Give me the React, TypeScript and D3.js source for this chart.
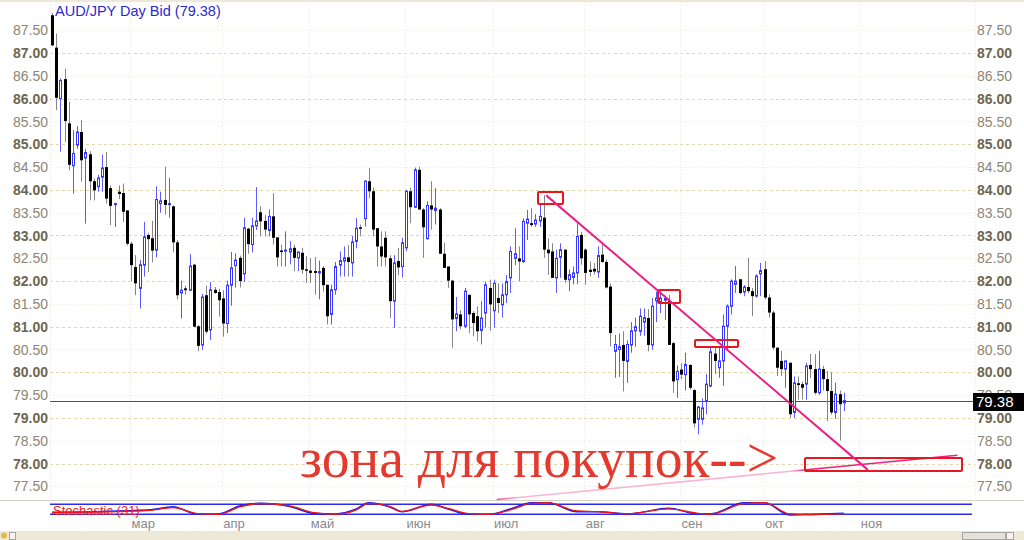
import React, { useRef, useEffect } from "react";
import * as d3 from "d3";

const W = 1024;
const H = 540;

// daily AUD/JPY bid candles, first one on 2018-02-05
const firstDay = new Date(2018, 1, 5);

const opens = [
  87.83, 87.12, 86.0, 86.43, 85.46, 84.53, 84.98, 85.27, 84.7, 84.78, 84.19, 84.07, 84.28, 84.5, 84.04, 83.69,
  83.96, 83.93, 83.55, 82.82, 82.31, 81.84, 82.35, 83.01, 82.94, 82.68, 83.7, 83.78, 83.68, 83.64, 82.85, 81.74,
  81.84, 81.8, 82.36, 81.01, 80.6, 81.69, 80.93, 81.81, 81.76, 81.62, 81.07, 81.91, 82.34, 82.51, 82.16, 83.15,
  82.8, 83.21, 83.51, 83.32, 83.11, 83.42, 82.96, 82.67, 82.66, 82.64, 82.73, 82.51, 82.62, 82.26, 82.23, 82.22,
  82.18, 82.29, 81.92, 81.27, 81.81, 82.35, 82.44, 82.52, 82.4, 82.87, 83.18, 83.37, 84.19, 83.97, 83.16, 82.76,
  82.95, 82.5, 81.56, 82.44, 82.32, 82.73, 83.97, 83.62, 84.44, 83.57, 82.93, 83.66, 83.55, 83.57, 82.6, 82.32,
  82.01, 81.18, 81.27, 81.01, 81.7, 81.3, 81.23, 80.92, 81.3, 81.85, 81.35, 81.63, 81.48, 81.7, 82.07, 82.5,
  82.5, 82.43, 83.27, 83.27, 83.25, 83.32, 83.39, 82.69, 82.65, 82.07, 82.52, 82.69, 82.03, 82.08, 82.18, 83.01,
  82.69, 82.25, 82.27, 82.2, 82.58, 82.42, 81.88, 80.46, 80.5, 80.6, 80.24, 80.6, 80.91, 80.9, 81.1, 81.19,
  80.6, 81.57, 81.55, 81.58, 81.57, 80.64, 79.84, 80.06, 79.95, 80.16, 79.61, 78.97, 78.97, 79.37, 79.7, 80.41,
  80.1, 80.25, 81.01, 81.45, 81.93, 82.04, 81.76, 81.87, 81.78, 81.67, 82.16, 82.26, 81.64, 81.31, 80.54, 80.25,
  80.07, 80.21, 79.12, 79.76, 79.74, 79.74, 80.16, 80.07, 79.55, 80.07, 79.85, 79.59, 79.12, 79.52, 79.33,
];

const highs = [
  87.88, 87.43, 86.45, 86.66, 85.93, 85.31, 85.4, 85.53, 84.9, 84.85, 84.25, 84.33, 84.77, 84.83, 84.1, 83.72,
  84.1, 84.14, 83.55, 82.86, 82.57, 82.46, 83.3, 83.06, 83.32, 84.08, 83.96, 84.51, 84.26, 83.66, 82.9, 82.01,
  81.9, 82.59, 82.38, 81.03, 81.72, 81.9, 81.98, 81.87, 81.83, 81.8, 82.01, 82.64, 82.61, 82.56, 83.39, 83.17,
  83.39, 84.06, 83.64, 83.45, 83.57, 83.93, 82.96, 82.8, 83.09, 82.88, 82.8, 82.6, 82.73, 82.55, 82.5, 82.53,
  82.45, 82.33, 81.92, 81.92, 82.42, 82.65, 82.76, 82.79, 82.99, 83.38, 83.24, 84.22, 84.48, 84.05, 83.16, 83.09,
  83.09, 82.57, 82.57, 82.73, 82.95, 84.0, 84.05, 84.49, 84.51, 83.6, 83.75, 84.19, 84.04, 83.6, 82.84, 82.32,
  82.03, 81.65, 81.36, 81.85, 81.7, 81.34, 81.45, 81.56, 81.99, 82.03, 82.03, 81.95, 81.95, 82.13, 82.76, 83.16,
  82.76, 83.38, 83.56, 83.6, 83.47, 83.71, 83.89, 82.94, 82.83, 82.69, 82.83, 82.69, 82.25, 82.32, 83.27, 83.08,
  82.72, 82.43, 82.39, 82.76, 82.8, 82.47, 81.95, 80.82, 80.85, 80.9, 80.7, 81.1, 81.2, 81.4, 81.4, 81.38,
  81.63, 81.77, 81.77, 81.68, 81.7, 80.67, 80.15, 80.2, 80.43, 80.18, 79.63, 79.26, 79.43, 79.96, 80.54, 80.54,
  80.54, 81.27, 81.49, 82.04, 82.33, 82.04, 81.91, 82.51, 81.85, 82.15, 82.4, 82.44, 81.71, 81.35, 80.54, 80.47,
  80.25, 80.21, 79.91, 79.91, 79.8, 80.21, 80.4, 80.4, 80.47, 80.14, 80.03, 80.0, 79.77, 79.6, 79.55,
];

const lows = [
  87.15, 85.75, 84.84, 85.05, 84.43, 83.92, 84.9, 84.18, 83.26, 83.77, 83.77, 83.96, 83.96, 83.7, 83.23, 83.19,
  83.8, 83.3, 82.78, 81.99, 81.69, 81.4, 82.1, 82.2, 82.41, 82.52, 83.5, 83.46, 83.39, 82.63, 81.6, 81.18,
  81.7, 81.78, 80.99, 80.46, 80.49, 80.85, 80.71, 81.72, 81.22, 80.78, 80.86, 81.46, 81.86, 81.86, 81.98, 82.6,
  82.63, 83.12, 82.98, 82.98, 82.98, 82.8, 82.32, 82.32, 82.32, 82.37, 82.22, 82.22, 82.16, 81.96, 81.96, 81.7,
  81.6, 81.77, 81.05, 81.05, 81.7, 82.1, 82.1, 82.1, 82.1, 82.72, 82.98, 83.2, 83.82, 82.98, 82.32, 82.32,
  82.32, 81.19, 80.97, 82.13, 82.08, 82.66, 83.27, 83.6, 83.57, 82.51, 82.91, 83.13, 83.24, 82.6, 82.29, 81.85,
  80.54, 80.9, 80.94, 80.97, 80.86, 80.79, 80.68, 80.61, 80.98, 80.91, 80.98, 81.3, 81.2, 81.52, 81.74, 82.35,
  82.0, 82.4, 82.9, 83.19, 83.19, 83.19, 82.51, 82.14, 82.07, 81.74, 82.07, 81.96, 81.78, 81.93, 81.93, 82.36,
  81.92, 82.1, 82.14, 82.07, 82.4, 81.84, 80.57, 79.88, 79.9, 79.58, 79.77, 80.43, 80.56, 80.8, 80.8, 80.46,
  80.49, 81.1, 81.3, 81.15, 80.6, 79.55, 79.44, 79.85, 79.6, 79.62, 78.79, 78.64, 78.85, 79.08, 79.67, 79.96,
  79.88, 79.7, 80.47, 81.27, 81.74, 81.71, 81.67, 81.74, 81.23, 81.64, 81.67, 81.6, 81.2, 80.5, 79.92, 79.92,
  79.66, 79.0, 79.0, 79.4, 79.4, 79.4, 79.87, 79.51, 79.51, 79.6, 78.93, 79.07, 78.98, 78.5, 79.15,
];

const closes = [
  87.17, 86.02, 86.4, 85.51, 84.55, 84.8, 85.27, 84.65, 84.82, 84.19, 83.99, 84.26, 84.48, 83.81, 83.65, 83.7,
  83.91, 83.52, 82.82, 82.35, 81.95, 82.36, 82.97, 82.92, 82.67, 83.79, 83.76, 83.67, 83.7, 82.85, 81.69, 81.8,
  81.8, 82.33, 81.0, 80.58, 81.65, 80.89, 81.81, 81.74, 81.58, 81.07, 81.91, 82.29, 82.46, 82.0, 83.17, 82.81,
  83.21, 83.32, 83.31, 83.13, 83.42, 82.95, 82.52, 82.64, 82.68, 82.71, 82.51, 82.64, 82.25, 82.25, 82.18, 82.18,
  82.21, 81.91, 81.23, 81.81, 82.32, 82.45, 82.51, 82.42, 82.86, 83.16, 83.15, 84.19, 83.97, 83.13, 82.76, 82.54,
  82.52, 81.56, 82.4, 82.3, 82.84, 83.97, 83.62, 84.44, 83.57, 83.18, 83.66, 83.57, 83.6, 82.6, 82.29, 82.01,
  81.16, 81.28, 81.01, 81.78, 81.27, 81.08, 80.9, 81.19, 81.92, 81.49, 81.95, 81.52, 81.7, 81.99, 82.65, 82.6,
  82.43, 83.31, 83.36, 83.23, 83.34, 83.42, 82.69, 82.61, 82.07, 82.5, 82.69, 82.03, 82.14, 82.18, 82.98, 82.5,
  82.18, 82.2, 82.21, 82.56, 82.42, 81.86, 80.86, 80.61, 80.56, 80.25, 80.61, 80.91, 81.0, 81.23, 81.2, 80.6,
  81.45, 81.63, 81.63, 81.62, 80.6, 79.8, 80.02, 79.95, 80.17, 79.66, 78.88, 79.24, 79.22, 79.74, 80.45, 80.25,
  80.25, 81.01, 81.45, 82.0, 82.0, 81.74, 81.87, 81.78, 81.67, 82.11, 82.23, 81.64, 81.31, 80.54, 80.1, 80.07,
  80.25, 79.08, 79.77, 79.72, 79.66, 80.14, 80.07, 79.55, 80.07, 79.85, 79.59, 79.12, 79.52, 79.3, 79.38,
];

const lastPrice = 79.38;
const priceTicks = [77.5, 78, 78.5, 79, 79.5, 80, 80.5, 81, 81.5, 82, 82.5, 83, 83.5, 84, 84.5, 85, 85.5, 86, 86.5, 87, 87.5];
const monthNames = ["янв", "фев", "мар", "апр", "май", "июн", "июл", "авг", "сен", "окт", "ноя", "дек"];

// Stochastic (31), read at a few candle positions
const stochAt = [0, 23, 29, 35, 40, 45, 50, 57, 63, 68, 73, 76, 81, 84, 91, 95, 100, 105, 110, 115, 119, 126, 131, 138, 148, 155, 158, 166, 171, 177, 182, 190];
const stochK = [32, 46, 65, 20, 22, 70, 86, 67, 25, 22, 52, 89, 64, 35, 80, 52, 20, 20, 52, 89, 89, 35, 35, 22, 56, 22, 22, 89, 89, 16, 19, 26];
const stochD = [30, 42, 60, 24, 20, 64, 85, 70, 30, 20, 46, 86, 68, 38, 76, 56, 24, 20, 46, 86, 90, 40, 36, 22, 52, 26, 20, 84, 90, 22, 18, 24];

// hand drawn marks: [slot from, slot to, price top, price bottom]
const markBoxes = [
  [116.5, 122.6, 83.96, 83.7],
  [145.4, 150.6, 81.81, 81.53],
  [154.4, 164.8, 80.71, 80.56],
  [180.8, 218.5, 78.11, 77.82],
];
const trendLine = [[118.6, 83.88], [195.8, 77.86]];
const supportLine = [[106.7, 77.21], [217.3, 78.18]];

const SLOTS = 222;

const App: React.FC = () => {
  const svgRef = useRef<SVGSVGElement>(null);

  useEffect(() => {
    if (!svgRef.current) return;
    const svg = d3.select(svgRef.current);
    svg.selectAll("*").remove();

    const sans = "'Liberation Sans', Arial, sans-serif";
    const plotL = 50;
    const plotR = 975;

    // trading days (weekdays) for candles and the empty space on the right
    const days = d3.timeDay
      .range(firstDay, new Date(2018, 11, 31))
      .filter((d) => d.getDay() !== 0 && d.getDay() !== 6)
      .slice(0, SLOTS);

    const x = d3.scaleLinear().domain([-0.5, SLOTS - 0.5]).range([plotL, plotR]);
    const y = d3.scaleLinear().domain([77.5, 87.5]).range([486.3, 30.3]);
    const sy = d3.scaleLinear().domain([0, 100]).range([517.6, 501]);
    const px = (v: number) => Math.round(v) + 0.5;

    svg.append("rect").attr("width", W).attr("height", H).attr("fill", "#fff");
    svg.append("rect").attr("width", W).attr("height", 2).attr("fill", "#ece9d8");

    // horizontal grid
    svg
      .append("g")
      .selectAll("line")
      .data(priceTicks)
      .enter()
      .append("line")
      .attr("x1", plotL)
      .attr("x2", plotR)
      .attr("y1", (d) => px(y(d)))
      .attr("y2", (d) => px(y(d)))
      .attr("stroke", (d) => (d % 1 === 0 ? "#e2d6ae" : "#eeeadc"))
      .attr("stroke-dasharray", (d) => (d % 1 === 0 ? "3,3" : "1,2"));

    // month boundaries (only those that fit before the right axis)
    const monthStarts = days
      .map((d, i) => ({ d, i }))
      .filter(({ d, i }) => i > 0 && d.getMonth() !== days[i - 1].getMonth() && x(i) < plotR - 60);

    svg
      .append("g")
      .selectAll("line")
      .data([{ i: -0.5 }, ...monthStarts, { i: SLOTS - 0.5 }])
      .enter()
      .append("line")
      .attr("x1", (d) => px(d.i < 0 || d.i > SLOTS - 1 ? x(d.i) : x(d.i) + 3))
      .attr("x2", (d) => px(d.i < 0 || d.i > SLOTS - 1 ? x(d.i) : x(d.i) + 3))
      .attr("y1", 2)
      .attr("y2", 500)
      .attr("stroke", "#ece7d6")
      .attr("stroke-dasharray", "1,2");

    // last price line
    svg
      .append("line")
      .attr("x1", plotL)
      .attr("x2", 973)
      .attr("y1", px(y(lastPrice)))
      .attr("y2", px(y(lastPrice)))
      .attr("stroke", "#505050");

    // candles
    const candles = opens.map((o, i) => ({ i, o, h: highs[i], l: lows[i], c: closes[i], up: closes[i] >= o }));
    const cg = svg.append("g").selectAll("g").data(candles).enter().append("g");

    cg.append("line")
      .attr("x1", (d) => px(x(d.i)))
      .attr("x2", (d) => px(x(d.i)))
      .attr("y1", (d) => y(d.h))
      .attr("y2", (d) => y(d.l))
      .attr("stroke", (d) => (d.up ? "#5b5bff" : "#858585"));

    cg.filter((d) => !d.up)
      .append("rect")
      .attr("x", (d) => Math.round(x(d.i)) - 1)
      .attr("width", 3)
      .attr("y", (d) => y(d.o))
      .attr("height", (d) => Math.max(1.5, y(d.c) - y(d.o)))
      .attr("fill", "#000");

    cg.filter((d) => d.up)
      .append("rect")
      .attr("x", (d) => Math.round(x(d.i)) - 0.5)
      .attr("width", 2)
      .attr("y", (d) => y(d.c))
      .attr("height", (d) => Math.max(1, y(d.o) - y(d.c)))
      .attr("fill", "#fff")
      .attr("stroke", "#3535ff")
      .attr("stroke-width", 1);

    // drawn marks
    const marks = svg.append("g");
    const grad = svg
      .append("defs")
      .append("linearGradient")
      .attr("id", "support")
      .attr("gradientUnits", "userSpaceOnUse")
      .attr("x1", x(supportLine[0][0]))
      .attr("x2", x(supportLine[1][0]))
      .attr("y1", 0)
      .attr("y2", 0);
    [
      [0, "#ee4d9a"],
      [0.05, "#f7b6d3"],
      [0.64, "#f7b6d3"],
      [0.67, "#ec1f82"],
      [1, "#ec1f82"],
    ].forEach(([o, c]) => grad.append("stop").attr("offset", o as number).attr("stop-color", c as string));

    marks
      .append("line")
      .attr("x1", x(supportLine[0][0]))
      .attr("y1", y(supportLine[0][1]))
      .attr("x2", x(supportLine[1][0]))
      .attr("y2", y(supportLine[1][1]))
      .attr("stroke", "url(#support)")
      .attr("stroke-width", 1.6);

    marks
      .selectAll("rect")
      .data(markBoxes)
      .enter()
      .append("rect")
      .attr("x", (d) => Math.round(x(d[0])))
      .attr("y", (d) => Math.round(y(d[2])))
      .attr("width", (d) => Math.round(x(d[1]) - x(d[0])))
      .attr("height", (d) => Math.round(y(d[3]) - y(d[2])))
      .attr("rx", 1)
      .attr("fill", "none")
      .attr("stroke", "#e8161e")
      .attr("stroke-width", 2);

    marks
      .append("line")
      .attr("x1", x(trendLine[0][0]))
      .attr("y1", y(trendLine[0][1]))
      .attr("x2", x(trendLine[1][0]))
      .attr("y2", y(trendLine[1][1]))
      .attr("stroke", "#ec1f82")
      .attr("stroke-width", 2);

    svg
      .append("text")
      .attr("x", 300)
      .attr("y", 477)
      .attr("textLength", 478)
      .attr("lengthAdjust", "spacingAndGlyphs")
      .attr("font-family", "'Liberation Serif', 'Times New Roman', serif")
      .attr("font-size", 56)
      .attr("fill", "#e5392f")
      .text("зона для покупок-->");

    // price axes, both sides
    [
      { xp: 48, anchor: "end" },
      { xp: 977, anchor: "start" },
    ].forEach(({ xp, anchor }) => {
      svg
        .append("g")
        .selectAll("text")
        .data(priceTicks)
        .enter()
        .append("text")
        .attr("x", xp)
        .attr("y", (d) => y(d) + 5)
        .attr("text-anchor", anchor)
        .attr("font-family", sans)
        .attr("font-size", 14)
        .attr("font-weight", (d) => (d % 1 === 0 ? "bold" : "normal"))
        .attr("fill", (d) => (d % 1 === 0 ? "#6e6650" : "#8c8574"))
        .text((d) => d.toFixed(2));
    });

    svg
      .append("rect")
      .attr("x", 973)
      .attr("y", Math.round(y(lastPrice)) - 8)
      .attr("width", 51)
      .attr("height", 18)
      .attr("fill", "#000");
    svg
      .append("text")
      .attr("x", 976)
      .attr("y", y(lastPrice) + 6)
      .attr("font-family", sans)
      .attr("font-size", 15)
      .attr("fill", "#fff")
      .text(lastPrice.toFixed(2));

    svg
      .append("text")
      .attr("x", 55)
      .attr("y", 16)
      .attr("font-family", sans)
      .attr("font-size", 14.5)
      .attr("fill", "#2a2ad0")
      .text(`AUD/JPY Day Bid (${lastPrice.toFixed(2)})`);

    // stochastic panel
    svg.append("line").attr("x1", 0).attr("x2", W).attr("y1", 500.5).attr("y2", 500.5).attr("stroke", "#d4d0c4");
    svg
      .append("g")
      .selectAll("line")
      .data([80, 20])
      .enter()
      .append("line")
      .attr("x1", plotL)
      .attr("x2", 972)
      .attr("y1", (d) => sy(d))
      .attr("y2", (d) => sy(d))
      .attr("stroke", "#2b2bef")
      .attr("stroke-width", 1.4);

    const stLine = (vals: number[]) =>
      d3
        .line<number>()
        .x((_, k) => x(stochAt[k]))
        .y((v) => sy(v))
        .curve(d3.curveMonotoneX)(vals);

    svg.append("path").attr("d", stLine(stochK)).attr("fill", "none").attr("stroke", "#1a1af0").attr("stroke-width", 1.5);
    svg.append("path").attr("d", stLine(stochD)).attr("fill", "none").attr("stroke", "#ee1515").attr("stroke-width", 1.3);

    svg
      .append("text")
      .attr("x", 53)
      .attr("y", 515)
      .attr("font-family", sans)
      .attr("font-size", 13)
      .attr("fill", "#ee1c1c")
      .text("Stochastic (31)");

    // month labels
    svg
      .append("g")
      .selectAll("text")
      .data(monthStarts)
      .enter()
      .append("text")
      .attr("x", (d) => x(d.i) + 4.5)
      .attr("y", 528)
      .attr("font-family", sans)
      .attr("font-size", 13)
      .attr("fill", "#8a8a8a")
      .text((d) => monthNames[d.d.getMonth()]);

    // bottom scroll strip
    svg.append("rect").attr("y", 531).attr("width", W).attr("height", 9).attr("fill", "#ece9d8");
    svg.append("rect").attr("x", 962.5).attr("y", 532.5).attr("width", 43).attr("height", 7).attr("fill", "#e4e2da").attr("stroke", "#a8a6a0");
    svg.append("rect").attr("x", 1006.5).attr("y", 532.5).attr("width", 7).attr("height", 7).attr("fill", "#f4f3ee").attr("stroke", "#a8a6a0");
    svg.append("circle").attr("cx", 4).attr("cy", 535.5).attr("r", 3).attr("fill", "#e6b84a");
    svg.append("rect").attr("x", 9.5).attr("y", 532.5).attr("width", 6).attr("height", 7).attr("fill", "#f4f3ee").attr("stroke", "#a8a6a0");
  }, []);

  return <svg ref={svgRef} width={W} height={H} style={{ position: "absolute", left: 0, top: 0 }} />;
};

export default App;
